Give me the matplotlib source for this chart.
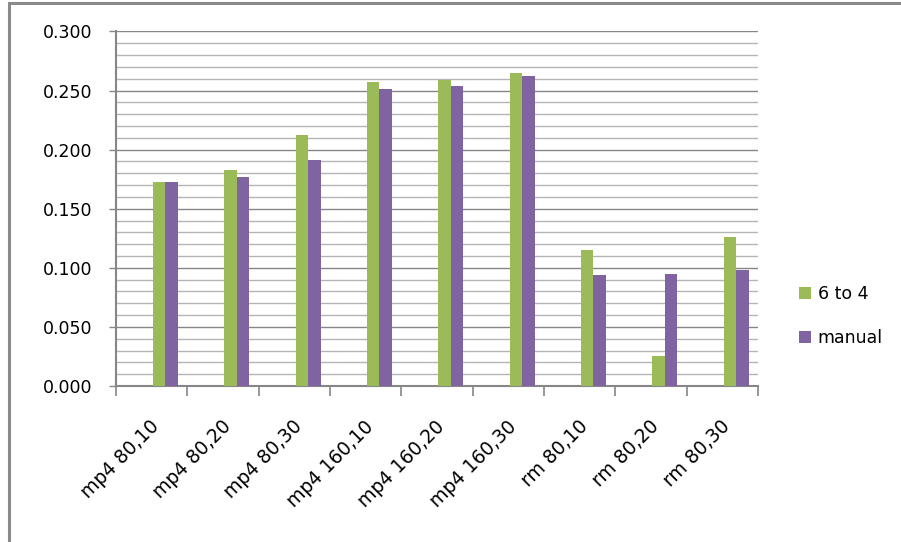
import matplotlib
matplotlib.use("Agg")
from matplotlib import pyplot as plt
from matplotlib.patches import Rectangle
from matplotlib.ticker import MultipleLocator, FixedLocator, NullFormatter
from matplotlib.transforms import ScaledTranslation
import numpy as np

categories = ["mp4 80,10", "mp4 80,20", "mp4 80,30", "mp4 160,10", "mp4 160,20",
              "mp4 160,30", "rm 80,10", "rm 80,20", "rm 80,30"]
six_to_four = [0.173, 0.183, 0.212, 0.257, 0.259, 0.265, 0.115, 0.025, 0.126]
manual = [0.173, 0.177, 0.191, 0.251, 0.254, 0.262, 0.094, 0.095, 0.098]

GREEN = "#9BBB59"
PURPLE = "#8064A2"
AXIS_GRAY = "#868686"
MINOR_GRAY = "#b4b4b4"

plt.rcParams["font.family"] = ["DejaVu Sans"]


def main():
    fig = plt.figure(figsize=(9.01, 5.42), dpi=100)
    fig.patch.set_facecolor("white")

    # outer chart frame (only top and left edges show)
    fig.patches.append(Rectangle((0.0105, -0.05), 1.5, 1.044, transform=fig.transFigure,
                                 fill=False, edgecolor="#8a8a8a", linewidth=2.2))

    ax = fig.add_axes([0.1288, 0.2878, 0.7125, 0.6541])
    x = np.arange(len(categories)) + 0.5
    w = 0.175
    ax.bar(x + 0.105, six_to_four, width=w, color=GREEN, label="6 to 4", zorder=3)
    ax.bar(x + 0.105 + w, manual, width=w, color=PURPLE, label="manual", zorder=3)

    ax.set_xlim(0, len(categories))
    ax.set_ylim(0, 0.3)

    ax.yaxis.set_major_locator(MultipleLocator(0.05))
    ax.yaxis.set_minor_locator(MultipleLocator(0.01))
    ax.yaxis.set_major_formatter(lambda v, p: f"{v:.3f}")
    ax.grid(axis="y", which="major", color=AXIS_GRAY, linewidth=1.0, zorder=1)
    ax.grid(axis="y", which="minor", color=MINOR_GRAY, linewidth=1.0, zorder=1)
    ax.set_axisbelow(True)

    # category boundaries carry the ticks, labels sit at the centres
    ax.xaxis.set_major_locator(FixedLocator(np.arange(len(categories) + 1)))
    ax.xaxis.set_major_formatter(NullFormatter())
    ax.xaxis.set_minor_locator(FixedLocator(x))
    ax.set_xticklabels(categories, minor=True)
    ax.tick_params(axis="x", which="major", length=7.5, width=1.2, color=AXIS_GRAY, direction="out")
    ax.tick_params(axis="x", which="minor", length=0, pad=27, labelsize=13.5)
    shift = ScaledTranslation(5 / 100, 0, fig.dpi_scale_trans)
    for lab in ax.get_xticklabels(minor=True):
        lab.set_rotation(45)
        lab.set_ha("right")
        lab.set_va("center")
        lab.set_rotation_mode("anchor")
        lab.set_transform(lab.get_transform() + shift)

    ax.tick_params(axis="y", which="major", length=5, width=1.0, color=AXIS_GRAY,
                   pad=12, labelsize=12.5)
    ax.tick_params(axis="y", which="minor", length=0)

    for side in ("top", "right"):
        ax.spines[side].set_visible(False)
    for side in ("left", "bottom"):
        ax.spines[side].set_color(AXIS_GRAY)
        ax.spines[side].set_linewidth(1.5)

    ax.legend(loc="center left", bbox_to_anchor=(1.050, 0.197), frameon=False,
              borderpad=0, fontsize=12.5, handlelength=0.69, handleheight=0.69,
              handletextpad=0.4, labelspacing=1.5)

    fig.savefig("out.png", dpi=100, facecolor="white")


if __name__ == "__main__":
    main()
